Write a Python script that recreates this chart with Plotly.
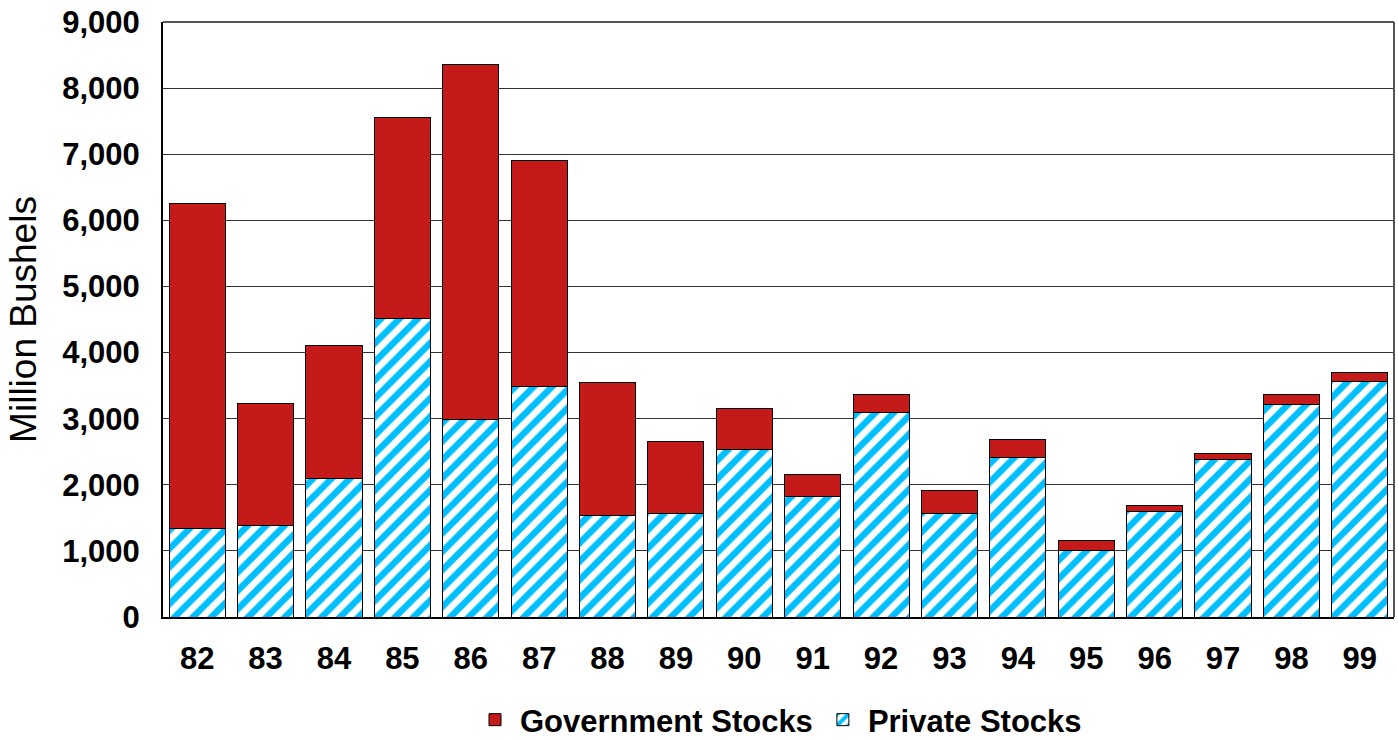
import plotly.graph_objects as go

years = ["82", "83", "84", "85", "86", "87", "88", "89", "90",
         "91", "92", "93", "94", "95", "96", "97", "98", "99"]
total_stocks = [6250, 3230, 4100, 7550, 8350, 6910, 3540, 2650, 3160,
                2150, 3360, 1910, 2680, 1160, 1680, 2470, 3370, 3700]
private_stocks = [1340, 1380, 2090, 4510, 2980, 3490, 1530, 1560, 2530,
                  1820, 3100, 1570, 2410, 1010, 1590, 2380, 3220, 3560]
government_stocks = [t - p for t, p in zip(total_stocks, private_stocks)]
y_ticks = [0, 1000, 2000, 3000, 4000, 5000, 6000, 7000, 8000, 9000]
y_tick_text = ["0", "1,000", "2,000", "3,000", "4,000", "5,000",
               "6,000", "7,000", "8,000", "9,000"]

FONT = "Liberation Sans, Arial, sans-serif"
RED = "#C41A1A"
BLUE = "#00BFFF"

fig = go.Figure()
fig.add_trace(go.Bar(
    x=years, y=private_stocks, name="Private Stocks",
    marker=dict(color="white", line=dict(color="black", width=1),
                pattern=dict(shape="/", fgcolor=BLUE, bgcolor="white", fgopacity=1,
                             size=13, solidity=0.5, fillmode="replace")),
    legendrank=2,
))
fig.add_trace(go.Bar(
    x=years, y=government_stocks, name="Government Stocks",
    marker=dict(color=RED, line=dict(color="black", width=1)),
    legendrank=1,
))

fig.update_layout(
    barmode="stack",
    bargap=0.18,
    width=1398, height=740,
    margin=dict(l=163, r=4, t=22, b=123),
    paper_bgcolor="white", plot_bgcolor="white",
    font=dict(family=FONT, color="black"),
    showlegend=True,
    legend=dict(orientation="h", x=0.5, xanchor="center",
                yref="container", y=0.027, yanchor="middle",
                font=dict(size=31, family=FONT, weight="bold"),
                itemwidth=40, traceorder="normal"),
)
fig.update_xaxes(
    showline=True, linecolor="black", linewidth=2, mirror=False,
    ticks="", tickfont=dict(size=31, family=FONT, weight="bold"),
    ticklabelstandoff=13, automargin=False,
)
fig.update_yaxes(
    range=[0, 9000], tickvals=y_ticks, ticktext=y_tick_text,
    showline=True, linecolor="black", linewidth=2,
    showgrid=True, gridcolor="#333333", gridwidth=1,
    ticks="", tickfont=dict(size=31, family=FONT, weight="bold"),
    ticklabelstandoff=15, automargin=False,
    title=dict(text="Million Bushels", font=dict(size=37, family=FONT), standoff=14),
    zeroline=False,
)
fig.add_shape(type="line", xref="paper", yref="paper", x0=0, x1=1, y0=1, y1=1,
              line=dict(color="#555555", width=2))
fig.add_shape(type="line", xref="paper", yref="paper", x0=1, x1=1, y0=0, y1=1,
              line=dict(color="#555555", width=2))

fig.write_html("out.html", config={"displayModeBar": False},
               post_script="document.body.style.margin='0';")
